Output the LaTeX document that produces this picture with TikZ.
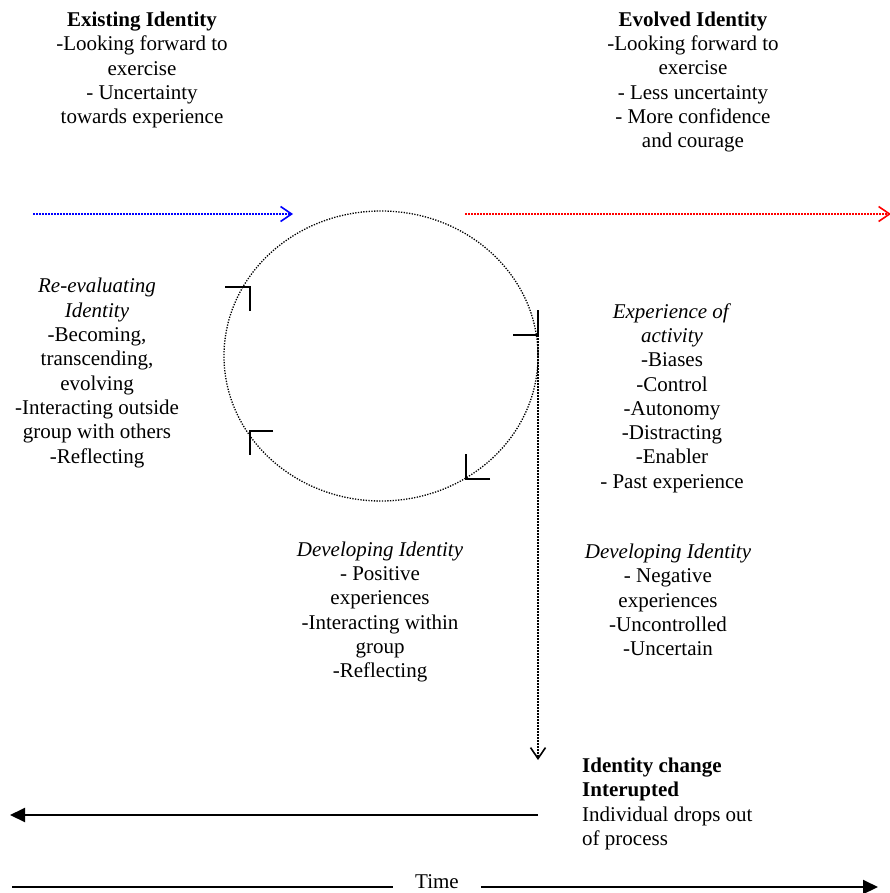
\documentclass[tikz,border=0pt]{standalone}
\usepackage{fontspec}
\setmainfont{Liberation Serif}
\usetikzlibrary{arrows.meta,shapes.geometric}

\begin{document}
\begin{tikzpicture}[x=1pt, y=-1pt,
		txt/.style={align=center, inner sep=0pt, font=\fontsize{21}{24.3}\selectfont},
		dots/.style={line width=1.5pt, dash pattern=on 1.5pt off 1.5pt},
		barb/.style={-{Straight Barb[length=11pt,width=15pt,line width=1.6pt]}},
		solidtip/.style={-{Triangle[length=15pt,width=14pt]}},
		turnmark/.style={line width=2pt}]
		\useasboundingbox (0,0) rectangle (889,893);
		
		% Identity before and after
		\node[txt] (existing) at (142,70) {\textbf{Existing Identity}\\-Looking forward to\\exercise\\- Uncertainty\\towards experience};
		\node[txt] (evolved) at (693,82) {\textbf{Evolved Identity}\\-Looking forward to\\exercise\\- Less uncertainty\\- More confidence\\and courage};
		
		% Stages round the cycle
		\node[txt] (reeval) at (97,373) {\textit{Re-evaluating}\\\textit{Identity}\\-Becoming,\\transcending,\\evolving\\-Interacting outside\\group with others\\-Reflecting};
		\node[txt] (activity) at (672,398) {\textit{Experience of}\\\textit{activity}\\-Biases\\-Control\\-Autonomy\\-Distracting\\-Enabler\\- Past experience};
		\node[txt] (devpos) at (380,612) {\textit{Developing Identity}\\- Positive\\experiences\\-Interacting within\\group\\-Reflecting};
		\node[txt] (devneg) at (668,600) {\textit{Developing Identity}\\- Negative\\experiences\\-Uncontrolled\\-Uncertain};
		\node[txt, align=left, anchor=west] (dropout) at (582,804) {\textbf{Identity change}\\\textbf{Interupted}\\Individual drops out\\of process};
		
		% The cycle
		\node[ellipse, draw, minimum width=314pt, minimum height=290pt, inner sep=0pt,
		line width=1.3pt, dash pattern=on 1.3pt off 1.4pt] (cycle) at (381,356) {};
		
		% Direction marks on the cycle
		\coordinate (m1) at (250,287);
		\coordinate (m2) at (538,335);
		\coordinate (m3) at (466,479);
		\coordinate (m4) at (250,431);
		\foreach \p/\dx/\dy in {m1/-25/24, m2/-25/-25, m3/24/-25, m4/23/24}
		\draw[turnmark] (\p) ++(\dx,0) -- (\p) -- ++(0,\dy);
		
		% Movement in and out of the cycle
		\coordinate (oldstart) at (33,214);
		\coordinate (oldend) at (293,214);
		\coordinate (newstart) at (465,214);
		\coordinate (newend) at (891,214);
		\draw[dots, blue, barb] (oldstart) -- (oldend);
		\draw[dots, red, barb] (newstart) -- (newend);
		
		% Dropping out
		\coordinate (dropend) at (538,760);
		\coordinate (backstart) at (538,815);
		\coordinate (backend) at (10,815);
		\draw[dots, barb] (m2) -- (dropend);
		\draw[line width=2pt, solidtip] (backstart) -- (backend);
		
		% Time axis
		\node[txt, inner xsep=22pt, anchor=base] (time) at (437,888) {Time};
		\coordinate (tstart) at (12,887);
		\coordinate (tend) at (878,887);
		\draw[line width=2pt] (tstart) -- (tstart -| time.west);
		\draw[line width=2pt, solidtip] (tend -| time.east) -- (tend);
	\end{tikzpicture}
\end{document}
